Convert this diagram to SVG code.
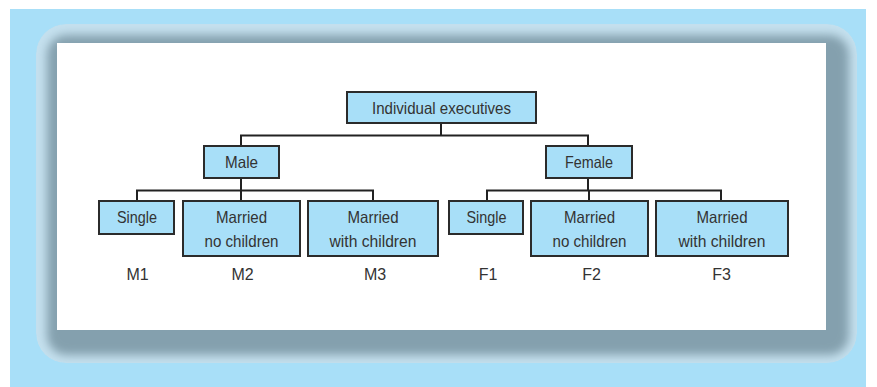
<svg xmlns="http://www.w3.org/2000/svg" width="877" height="387" viewBox="0 0 877 387">
  <defs>
    <filter id="soft" x="-10%" y="-10%" width="120%" height="120%">
      <feGaussianBlur stdDeviation="5"/>
    </filter>
    <clipPath id="frameClip">
      <rect x="36" y="24" width="821" height="339" rx="30"/>
    </clipPath>
    <style>
      .box { fill: #a8dff8; stroke: #2b2b2b; stroke-width: 2; }
      .lbl { font-family: "Liberation Sans", Arial, sans-serif; font-size: 16.5px; fill: #333333; text-anchor: middle; }
      .code { font-family: "Liberation Sans", Arial, sans-serif; font-size: 16px; fill: #333333; text-anchor: middle; }
      .link { fill: none; stroke: #222; stroke-width: 2; }
    </style>
  </defs>

  <!-- page background -->
  <rect x="0" y="0" width="877" height="387" fill="#ffffff"/>
  <rect x="10" y="9" width="856" height="378" fill="#a8dff8"/>

  <!-- soft frame around the panel -->
  <g clip-path="url(#frameClip)">
    <rect x="36" y="24" width="821" height="339" rx="30" fill="#c4e0ee"/>
    <rect x="47" y="35" width="802" height="320" rx="20" fill="#84a0ae" filter="url(#soft)"/>
  </g>
  <rect x="57" y="43" width="769" height="287" fill="#ffffff"/>

  <!-- connectors -->
  <g id="connectors">
    <path class="link" d="M441 123 V135.5 M241 146 V135.5 H588 V146"/>
    <path class="link" d="M241 178 V190.5 M137 201 V190.5 H373 V201 M241 190.5 V201"/>
    <path class="link" d="M588 178 V190.5 M487 201 V190.5 H721 V201 M589 190.5 V201"/>
  </g>

  <!-- top level -->
  <g id="individual-executives">
    <rect class="box" x="347" y="92" width="189" height="31"/>
    <text class="lbl" x="441.5" y="114" textLength="139" lengthAdjust="spacingAndGlyphs">Individual executives</text>
  </g>

  <!-- gender level -->
  <g id="male">
    <rect class="box" x="204" y="146" width="75" height="32"/>
    <text class="lbl" x="241.5" y="168" textLength="33" lengthAdjust="spacingAndGlyphs">Male</text>
  </g>
  <g id="female">
    <rect class="box" x="546" y="146" width="86" height="32"/>
    <text class="lbl" x="589" y="168" textLength="48" lengthAdjust="spacingAndGlyphs">Female</text>
  </g>

  <!-- male groups -->
  <g id="m-single">
    <rect class="box" x="99" y="201" width="75" height="33"/>
    <text class="lbl" x="137" y="223" textLength="40" lengthAdjust="spacingAndGlyphs">Single</text>
  </g>
  <g id="m-married-no-children">
    <rect class="box" x="183" y="201" width="117" height="55"/>
    <text class="lbl" x="241.5" y="223" textLength="51" lengthAdjust="spacingAndGlyphs">Married</text>
    <text class="lbl" x="241.5" y="246.5" textLength="74" lengthAdjust="spacingAndGlyphs">no children</text>
  </g>
  <g id="m-married-with-children">
    <rect class="box" x="308" y="201" width="130" height="55"/>
    <text class="lbl" x="373" y="223" textLength="51" lengthAdjust="spacingAndGlyphs">Married</text>
    <text class="lbl" x="373" y="246.5" textLength="87" lengthAdjust="spacingAndGlyphs">with children</text>
  </g>

  <!-- female groups -->
  <g id="f-single">
    <rect class="box" x="449" y="201" width="74" height="33"/>
    <text class="lbl" x="486.5" y="223" textLength="40" lengthAdjust="spacingAndGlyphs">Single</text>
  </g>
  <g id="f-married-no-children">
    <rect class="box" x="531" y="201" width="117" height="55"/>
    <text class="lbl" x="589.5" y="223" textLength="51" lengthAdjust="spacingAndGlyphs">Married</text>
    <text class="lbl" x="589.5" y="246.5" textLength="74" lengthAdjust="spacingAndGlyphs">no children</text>
  </g>
  <g id="f-married-with-children">
    <rect class="box" x="656" y="201" width="132" height="55"/>
    <text class="lbl" x="722" y="223" textLength="51" lengthAdjust="spacingAndGlyphs">Married</text>
    <text class="lbl" x="722" y="246.5" textLength="87" lengthAdjust="spacingAndGlyphs">with children</text>
  </g>

  <!-- segment codes -->
  <g id="codes">
    <text class="code" x="137.5" y="280">M1</text>
    <text class="code" x="242.5" y="280">M2</text>
    <text class="code" x="375" y="280">M3</text>
    <text class="code" x="488" y="280">F1</text>
    <text class="code" x="591.5" y="280">F2</text>
    <text class="code" x="721.5" y="280">F3</text>
  </g>
</svg>
